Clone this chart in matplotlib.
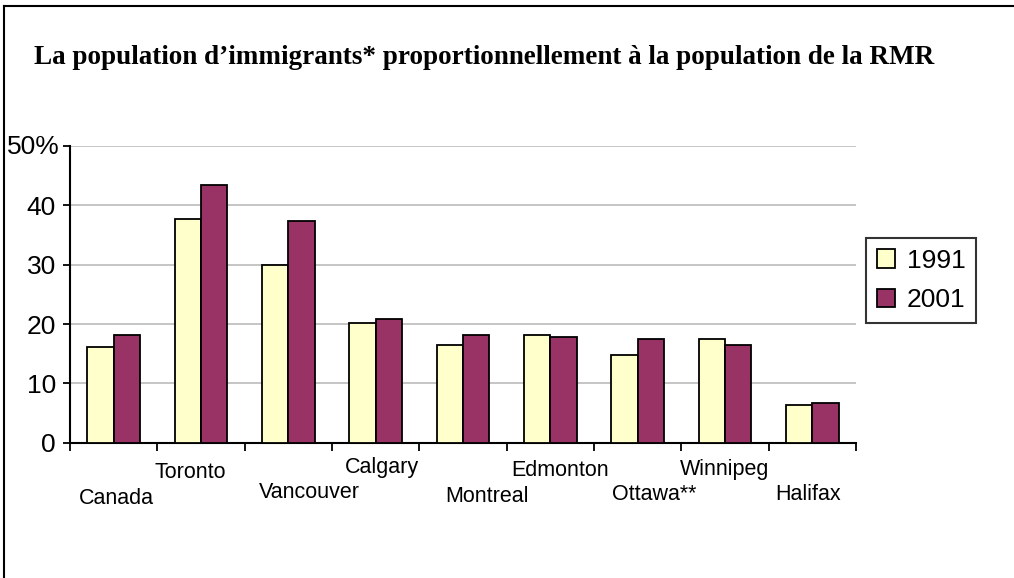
import matplotlib.pyplot as plt
import matplotlib.patches as mpatches
from matplotlib.lines import Line2D
import numpy as np

cities = ['Canada', 'Toronto', 'Vancouver', 'Calgary', 'Montreal',
          'Edmonton', 'Ottawa**', 'Winnipeg', 'Halifax']
pop1991 = [16.2, 37.7, 30.0, 20.2, 16.5, 18.2, 14.8, 17.5, 6.4]
pop2001 = [18.2, 43.5, 37.4, 20.9, 18.2, 17.8, 17.5, 16.5, 6.7]
years = ['1991', '2001']
yticks = [0, 10, 20, 30, 40, 50]

# label nudges (pixels) to mimic the staggered layout
label_dx = [3, -11, 21, 6, 24, 10, 17, 0, -4]
label_y = [499, 472, 493, 468, 496, 470, 494, 470, 494]

W, H = 1014, 578
fig = plt.figure(figsize=(W / 100, H / 100), dpi=100)
ax = fig.add_axes([70 / W, 1 - 442.7 / H, (856 - 70) / W, (442.7 - 146) / H])

yellow = '#FFFFCC'
purple = '#993366'

x = np.arange(len(cities))
bw = 0.3
ax.bar(x - bw / 2, pop1991, bw, color=yellow, edgecolor='black', linewidth=1.3, label=years[0], zorder=3)
ax.bar(x + bw / 2, pop2001, bw, color=purple, edgecolor='black', linewidth=1.3, label=years[1], zorder=3)

ax.set_xlim(-0.5, len(cities) - 0.5)
ax.set_ylim(0, 50)
ax.set_yticks(yticks)
ax.set_yticklabels([str(v) for v in yticks[:-1]] + [''], fontsize=19, family='Liberation Sans')
ax.yaxis.grid(True, color='#C0C0C0', linewidth=1.3, zorder=0)
ax.set_xticks(np.arange(len(cities) + 1) - 0.5)
ax.set_xticklabels([])
ax.tick_params(axis='x', direction='out', length=6, width=1.3)
ax.tick_params(axis='y', direction='out', length=5, width=1.3, pad=5)
for s in ['top', 'right']:
    ax.spines[s].set_visible(False)
for s in ['left', 'bottom']:
    ax.spines[s].set_linewidth(1.5)

# top tick label sits apart from the others
fig.text(7 / W, 1 - 147 / H, '50%', fontsize=19, family='Liberation Sans', ha='left', va='center')

# staggered category labels
for i, name in enumerate(cities):
    xf = (70 + 786 / len(cities) * (i + 0.5) + label_dx[i]) / W
    fig.text(xf, 1 - label_y[i] / H, name, fontsize=15.5, family='Liberation Sans', ha='center', va='center')

fig.text(34 / W, 1 - 57 / H, 'La population d\u2019immigrants* proportionnellement \u00e0 la population de la RMR',
         fontsize=19.5, family='Liberation Serif', weight='bold', ha='left', va='center')

handles = [mpatches.Patch(facecolor=yellow, edgecolor='black', linewidth=1.3),
           mpatches.Patch(facecolor=purple, edgecolor='black', linewidth=1.3)]
leg = fig.legend(handles, years, loc='center left', bbox_to_anchor=(866 / W, 1 - 280.5 / H),
                 prop={'family': 'Liberation Sans', 'size': 19}, frameon=True, fancybox=False,
                 borderaxespad=0, handlelength=0.7, handleheight=0.7, handletextpad=0.45,
                 labelspacing=0.6, borderpad=0.4)
leg.get_frame().set_edgecolor('black')
leg.get_frame().set_linewidth(1.5)

# outer frame (open at bottom and right)
fig.add_artist(Line2D([4 / W, 4 / W], [0, 1 - 6 / H], color='black', linewidth=1.5, transform=fig.transFigure))
fig.add_artist(Line2D([4 / W, 1], [1 - 6 / H, 1 - 6 / H], color='black', linewidth=1.5, transform=fig.transFigure))

fig.savefig('out.png', dpi=100)
